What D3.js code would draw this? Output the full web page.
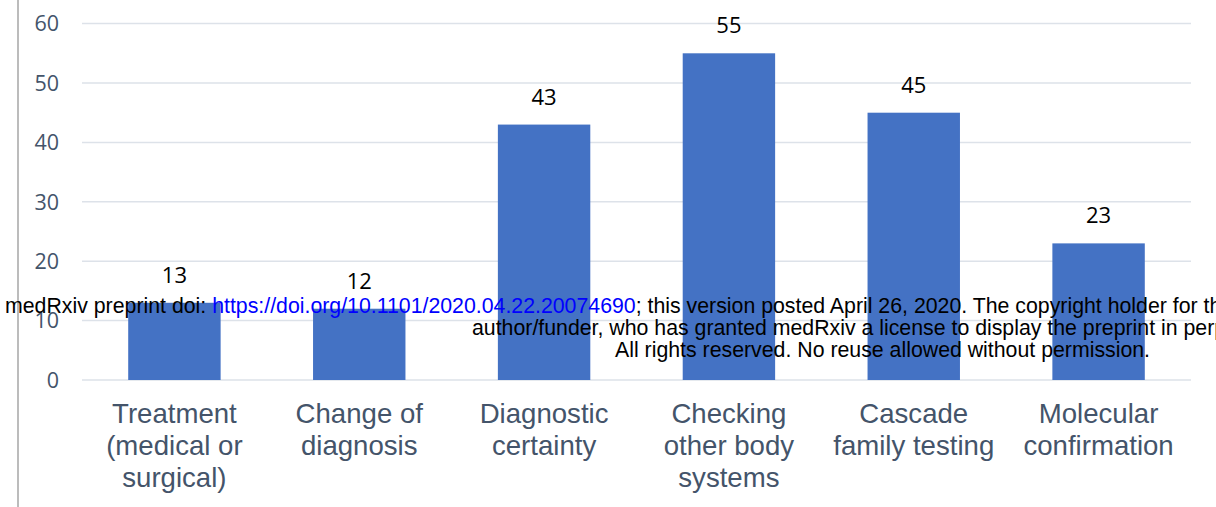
<!DOCTYPE html>
<html>
<head>
<meta charset="utf-8">
<script src="https://cdn.jsdelivr.net/npm/d3@7"></script>
<style>
  body { margin: 0; background: #fff; }
  svg { display: block; }
</style>
</head>
<body>
<div id="chart"></div>
<script>
var categories = [
  ["Treatment", "(medical or", "surgical)"],
  ["Change of", "diagnosis"],
  ["Diagnostic", "certainty"],
  ["Checking", "other body", "systems"],
  ["Cascade", "family testing"],
  ["Molecular", "confirmation"]
];
var values = [13, 12, 43, 55, 45, 23];
var yTicks = [0, 10, 20, 30, 40, 50, 60];

var width = 1216, height = 507;

var svg = d3.select("#chart").append("svg")
  .attr("width", width)
  .attr("height", height);

var x = d3.scaleBand()
  .domain(d3.range(categories.length))
  .range([82, 1191])
  .paddingInner(0.5)
  .paddingOuter(0.25);

var y = d3.scaleLinear().domain([0, 60]).range([380, 23.6]);

// left frame line
svg.append("line")
  .attr("x1", 18).attr("x2", 18)
  .attr("y1", 0).attr("y2", height)
  .style("stroke", "#a6a6a6").style("stroke-width", 1.5);

// gridlines
svg.append("g").selectAll("line")
  .data(yTicks)
  .enter().append("line")
  .attr("x1", 82).attr("x2", 1191)
  .attr("y1", function(d) { return y(d); })
  .attr("y2", function(d) { return y(d); })
  .style("stroke", "#dde2e9").style("stroke-width", 1.5);

// y tick labels
svg.append("g").selectAll("text")
  .data(yTicks)
  .enter().append("text")
  .attr("x", 59)
  .attr("y", function(d) { return y(d); })
  .attr("dy", "0.36em")
  .attr("text-anchor", "end")
  .style("font-family", "'Open Sans', sans-serif")
  .style("font-size", "21.5px")
  .style("fill", "#44546a")
  .text(function(d) { return d; });

// bars
svg.append("g").selectAll("rect")
  .data(values)
  .enter().append("rect")
  .attr("x", function(d, i) { return x(i); })
  .attr("width", x.bandwidth())
  .attr("y", function(d) { return y(d); })
  .attr("height", function(d) { return y(0) - y(d); })
  .style("fill", "#4472c4");

// value labels
svg.append("g").selectAll("text")
  .data(values)
  .enter().append("text")
  .attr("x", function(d, i) { return x(i) + x.bandwidth() / 2; })
  .attr("y", function(d) { return y(d) - 20; })
  .attr("text-anchor", "middle")
  .style("font-family", "'Open Sans', sans-serif")
  .style("font-size", "22px")
  .style("fill", "#000")
  .text(function(d) { return d; });

// category labels
var cat = svg.append("g").selectAll("text")
  .data(categories)
  .enter().append("text")
  .attr("text-anchor", "middle")
  .style("font-family", "'Liberation Sans', Arial, sans-serif")
  .style("font-size", "27.6px")
  .style("fill", "#44546a");

cat.selectAll("tspan")
  .data(function(d, i) { return d.map(function(t) { return {t: t, i: i}; }); })
  .enter().append("tspan")
  .attr("x", function(d) { return x(d.i) + x.bandwidth() / 2; })
  .attr("y", function(d, j) { return 423 + j * 32; })
  .text(function(d) { return d.t; });

// medRxiv watermark
var wm = svg.append("g")
  .style("font-family", "'Liberation Sans', Arial, sans-serif")
  .style("font-size", "21.3px")
  .style("fill", "#000");

var l1 = wm.append("text").attr("x", 5).attr("y", 313);
l1.append("tspan").text("medRxiv preprint doi: ");
l1.append("tspan").style("fill", "#0000ff").text("https://doi.org/10.1101/2020.04.22.20074690");
l1.append("tspan").text("; this version posted April 26, 2020. The copyright holder for this preprint");

wm.append("text").attr("x", 472).attr("y", 335)
  .text("author/funder, who has granted medRxiv a license to display the preprint in perpetuity.");
wm.append("text").attr("x", 615).attr("y", 357)
  .text("All rights reserved. No reuse allowed without permission.");
</script>
</body>
</html>
